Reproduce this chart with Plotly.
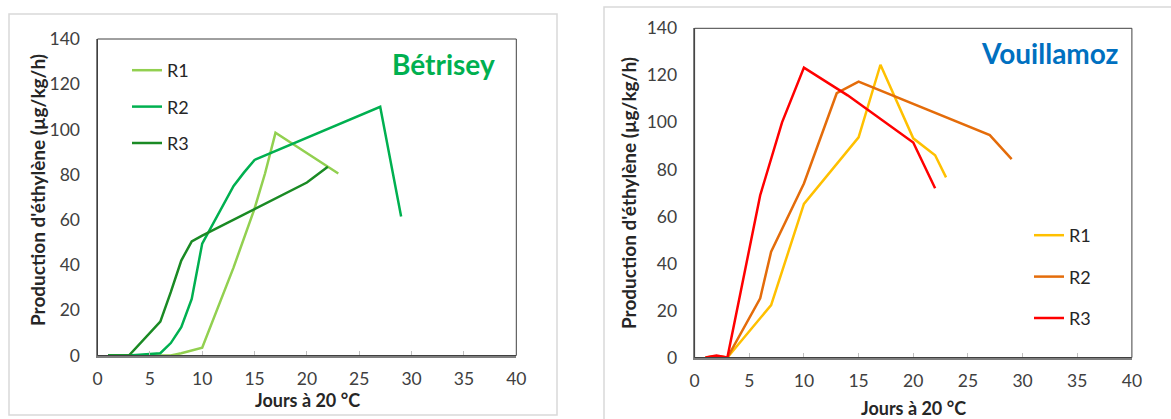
import plotly.graph_objects as go

W, H = 1171, 419

# ---------------- Data: Bétrisey ----------------
bet_r1_x = [1, 3, 6, 7, 8, 10, 13, 14, 15, 16, 17, 23]
bet_r1_y = [0, 0, 0, 0, 1, 3.4, 39, 52.5, 65, 80.5, 98.5, 80.5]
bet_r2_x = [1, 2, 3, 6, 7, 8, 9, 10, 11, 12, 13, 14, 15, 27, 29]
bet_r2_y = [0, 0, 0, 1, 5.5, 12.5, 25, 49.5, 58, 67, 75, 81, 86.5, 110, 61.5]
bet_r3_x = [1, 2, 3, 6, 7, 8, 9, 10, 20, 22]
bet_r3_y = [0, 0, 0, 15, 28, 42, 50.5, 53, 76.5, 83.5]

# ---------------- Data: Vouillamoz ----------------
vou_r1_x = [1, 2, 3, 7, 10, 15, 17, 20, 22, 23]
vou_r1_y = [0, 0.5, 0, 22.3, 65.3, 93.6, 124.5, 93.2, 86, 76.6]
vou_r2_x = [1, 2, 3, 6, 7, 8, 10, 13, 15, 27, 29]
vou_r2_y = [0, 0.5, 0, 25.2, 45, 54.5, 74, 112.4, 117.3, 94.6, 84.4]
vou_r3_x = [1, 2, 3, 6, 8, 9, 10, 14, 20, 22]
vou_r3_y = [0, 0.8, 0, 69, 100, 112, 123.3, 111.5, 91.4, 72]

series_names = ["R1", "R2", "R3"]
x_ticks = [0, 5, 10, 15, 20, 25, 30, 35, 40]
y_ticks = [0, 20, 40, 60, 80, 100, 120, 140]

bet_colors = ["#92D050", "#00B050", "#1A8A24"]
vou_colors = ["#FFC000", "#E46C0A", "#FF0000"]

FONT = "Lato, Carlito, Calibri, 'Open Sans', sans-serif"


def px(x):
    return x / W


def py(y):
    return 1 - y / H


fig = go.Figure()

bet = [(bet_r1_x, bet_r1_y), (bet_r2_x, bet_r2_y), (bet_r3_x, bet_r3_y)]
vou = [(vou_r1_x, vou_r1_y), (vou_r2_x, vou_r2_y), (vou_r3_x, vou_r3_y)]

for i, (xs, ys) in enumerate(bet):
    fig.add_trace(go.Scatter(x=xs, y=ys, mode="lines", name=series_names[i],
                             line=dict(color=bet_colors[i], width=2.5),
                             xaxis="x", yaxis="y", legend="legend",
                             legendgroup="b" + str(i)))
for i, (xs, ys) in enumerate(vou):
    fig.add_trace(go.Scatter(x=xs, y=ys, mode="lines", name=series_names[i],
                             line=dict(color=vou_colors[i], width=2.5),
                             xaxis="x2", yaxis="y2", legend="legend2",
                             legendgroup="v" + str(i)))

tickfont = dict(family=FONT, size=17.5, color="#404040")

common_x = dict(range=[0, 40], tickvals=x_ticks, showgrid=False, zeroline=False,
                showline=True, linecolor="#7F7F7F", linewidth=2,
                ticks="inside", ticklen=5, tickcolor="#BFBFBF", tickwidth=1,
                tickfont=tickfont, ticklabelstandoff=6, automargin=False)
common_y = dict(range=[0, 140], tickvals=y_ticks, showgrid=False, zeroline=False,
                showline=True, linecolor="#7F7F7F", linewidth=2,
                ticks="", tickfont=tickfont, ticklabelstandoff=12, automargin=False)

left_dom_x = [px(97.5), px(516.3)]
left_dom_y = [py(355.5), py(39)]
right_dom_x = [px(694.6), px(1131.9)]
right_dom_y = [py(357.5), py(28.3)]

legend_common = dict(bgcolor="rgba(0,0,0,0)", borderwidth=0,
                     font=dict(family=FONT, size=18, color="#262626"),
                     xanchor="left", yanchor="top", itemclick=False)

fig.update_layout(
    width=W, height=H,
    margin=dict(l=0, r=0, t=0, b=0, pad=0, autoexpand=False),
    paper_bgcolor="white", plot_bgcolor="white",
    xaxis=dict(domain=left_dom_x, anchor="y", **common_x),
    yaxis=dict(domain=left_dom_y, anchor="x", **common_y),
    xaxis2=dict(domain=right_dom_x, anchor="y2", **common_x),
    yaxis2=dict(domain=right_dom_y, anchor="x2", **common_y),
    legend=dict(x=px(127), y=py(52), tracegroupgap=10, **legend_common),
    legend2=dict(x=px(1029), y=py(217), tracegroupgap=15, **legend_common),
    showlegend=True,
)

# outer chart frames (light gray) and plot-area frames
shapes = [
    dict(type="rect", xref="paper", yref="paper", x0=px(9), x1=px(557), y0=py(415), y1=py(14),
         line=dict(color="#D9D9D9", width=1.5), layer="below"),
    dict(type="rect", xref="paper", yref="paper", x0=px(604), x1=px(1180), y0=py(430), y1=py(7),
         line=dict(color="#D9D9D9", width=1.5), layer="below"),
    dict(type="rect", xref="x domain", yref="y domain", x0=0, x1=1, y0=0, y1=1,
         line=dict(color="#404040", width=1)),
    dict(type="rect", xref="x2 domain", yref="y2 domain", x0=0, x1=1, y0=0, y1=1,
         line=dict(color="#404040", width=1)),
]
fig.update_layout(shapes=shapes)

ytitle_font = dict(family=FONT, size=19, color="#262626")
xtitle_font = dict(family=FONT, size=18, color="#262626")
ylabel = "<b>Production d'éthylène (µg/kg/h)</b>"
xlabel = "<b>Jours à 20 °C</b>"
annotations = [
    dict(text="<b>Bétrisey</b>", x=px(443), y=py(64), xref="paper", yref="paper",
         showarrow=False, font=dict(family=FONT, size=28, color="#00B050"),
         xanchor="center", yanchor="middle"),
    dict(text="<b>Vouillamoz</b>", x=px(1050), y=py(53), xref="paper", yref="paper",
         showarrow=False, font=dict(family=FONT, size=28, color="#0070C0"),
         xanchor="center", yanchor="middle", bgcolor="white"),
    dict(text=ylabel, x=px(37), y=py(190), xref="paper", yref="paper", textangle=-90,
         showarrow=False, font=ytitle_font, xanchor="center", yanchor="middle"),
    dict(text=ylabel, x=px(628), y=py(193), xref="paper", yref="paper", textangle=-90,
         showarrow=False, font=ytitle_font, xanchor="center", yanchor="middle"),
    dict(text=xlabel, x=px(307), y=py(400), xref="paper", yref="paper",
         showarrow=False, font=xtitle_font, xanchor="center", yanchor="middle"),
    dict(text=xlabel, x=px(913), y=py(408), xref="paper", yref="paper",
         showarrow=False, font=xtitle_font, xanchor="center", yanchor="middle"),
]
fig.update_layout(annotations=annotations)

fig.write_html("out.html", config={"displayModeBar": False},
               post_script="document.body.style.margin='0';document.body.style.padding='0';")
